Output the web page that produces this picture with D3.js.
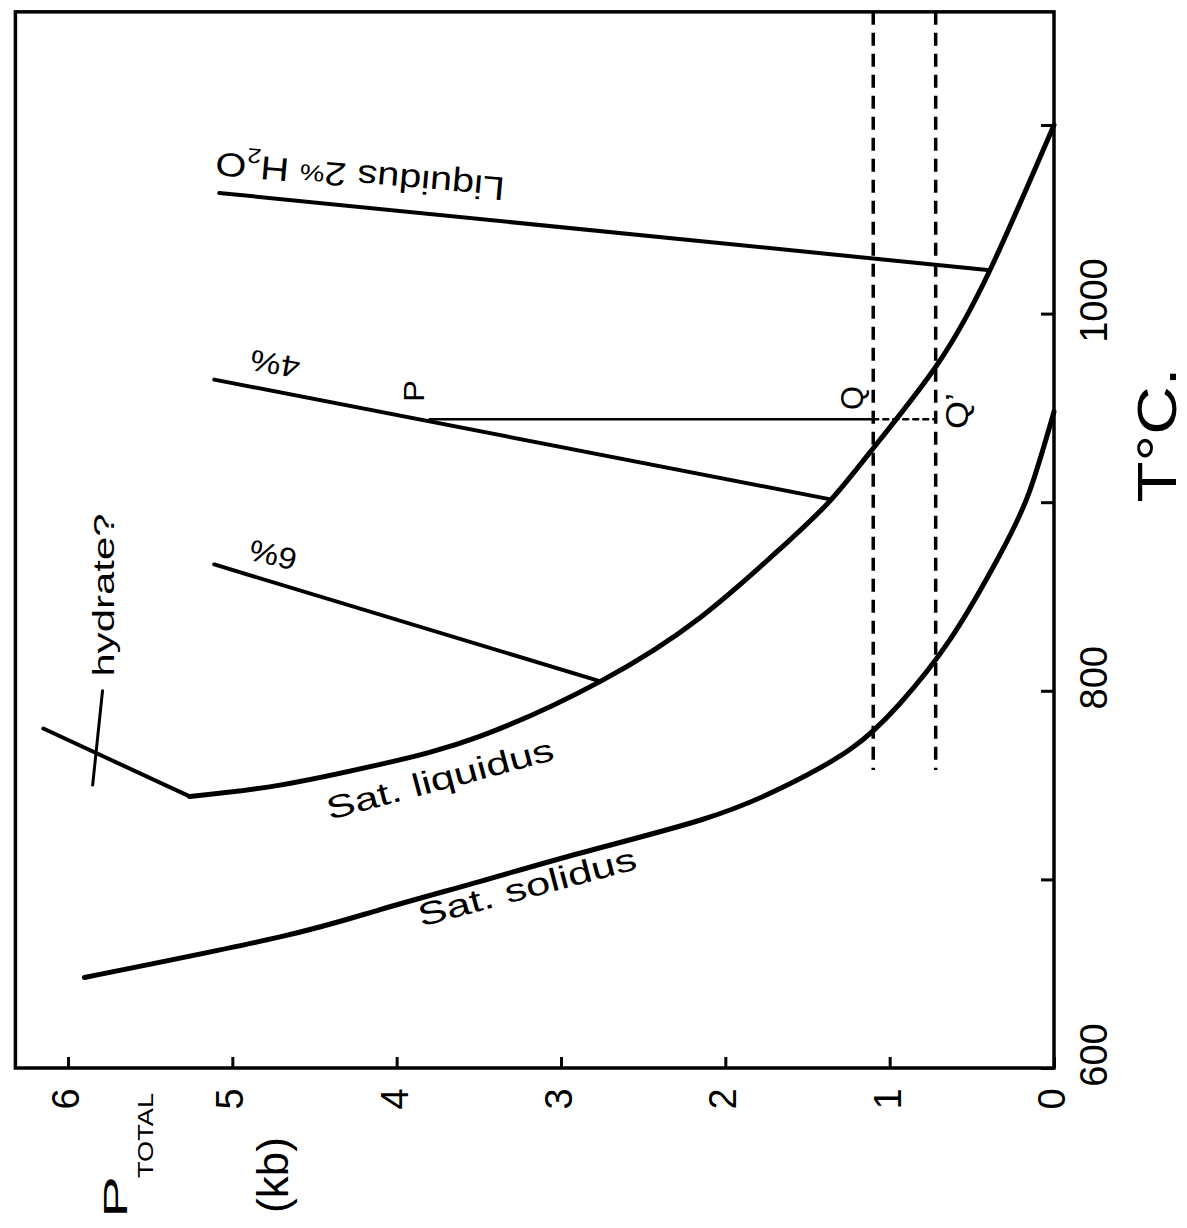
<!DOCTYPE html>
<html lang="en">
<head>
    <meta charset="UTF-8">
    <title>Saturated liquidus and solidus, P total vs T</title>
    <script src="https://cdn.jsdelivr.net/npm/d3@7"></script>
    <style>
        body { margin: 0; background: #fff; }
        svg { display: block; font-family: "Liberation Sans", Arial, sans-serif; }
        .curve { fill: none; stroke: #000; stroke-linecap: round; stroke-linejoin: round; }
    </style>
</head>
<body>
    <svg id="chart" width="1187" height="1228"></svg>

    <script>
        // ticks (P in kb along the bottom, T in degC up the right side)
        const pTicks = [0, 1, 2, 3, 4, 5, 6];
        const tTicks = [600, 700, 800, 900, 1000, 1100];
        const tLabels = [600, 800, 1000];

        // curves as [P kb, T degC]
        const satLiquidus = [[5.26, 744], [4.71, 750], [4.10, 761], [3.49, 776], [2.76, 805], [2.15, 839],
            [1.67, 875], [1.36, 901], [1.06, 933], [0.71, 973], [0.39, 1023], [0, 1100]];
        const satSolidus = [[5.90, 648], [4.71, 669.5], [4.10, 684], [3.49, 699], [2.88, 714], [2.15, 731.5],
            [1.67, 748], [1.24, 769], [0.94, 793], [0.63, 827.5], [0.33, 872], [0.15, 905.5], [0, 948]];
        const liquidus2 = [[5.08, 1064], [0.39, 1023]];
        const liquidus4 = [[5.11, 965], [1.36, 901.5]];
        const liquidus6 = [[5.11, 867], [2.76, 805]];
        const hydrate = [[6.15, 780], [5.26, 744]];
        const hydrateLeader = [[5.79, 800], [5.85, 750]];

        // P -> Q -> Q' construction
        const pointP = [3.80, 944];
        const isobars = [1.10, 0.72];     // dashed lines through Q and Q'
        const isobarBottom = 758;

        const svg = d3.select("#chart");

        // the figure is turned on its side: P runs right-to-left, T runs bottom-to-top
        const x = d3.scaleLinear().domain([0, 6]).range([1054, 68]);
        const y = d3.scaleLinear().domain([600, 1100]).range([1068, 125]);

        const line = d3.line().x(d => x(d[0])).y(d => y(d[1]));
        const smooth = d3.line().x(d => x(d[0])).y(d => y(d[1])).curve(d3.curveNatural);

        // frame
        const pMax = 6.32, tMax = 1160;
        svg.append("rect")
            .attr("x", x(pMax)).attr("y", y(tMax))
            .attr("width", x(0) - x(pMax)).attr("height", y(600) - y(tMax))
            .attr("fill", "none").attr("stroke", "#000").attr("stroke-width", 3.5);

        // P axis (bottom), ticks pointing inward
        const pAxis = svg.append("g").attr("transform", `translate(0,${y(600)})`)
            .call(d3.axisBottom(x).tickValues(pTicks).tickSizeInner(-11).tickSizeOuter(0).tickFormat(""));
        pAxis.select(".domain").remove();
        pAxis.selectAll("line").attr("stroke-width", 3);

        svg.append("g").selectAll("text")
            .data(pTicks)
            .join("text")
            .attr("transform", d => `translate(${x(d) + 11},1099) rotate(-90)`)
            .attr("text-anchor", "middle")
            .attr("font-size", 38)
            .text(d => d);

        // T axis (right), ticks pointing inward
        const tAxis = svg.append("g").attr("transform", `translate(${x(0)},0)`)
            .call(d3.axisRight(y).tickValues(tTicks).tickSizeInner(-13).tickSizeOuter(0).tickFormat(""));
        tAxis.select(".domain").remove();
        tAxis.selectAll("line").attr("stroke-width", 3);

        svg.append("g").selectAll("text")
            .data(tLabels)
            .join("text")
            .attr("transform", d => `translate(1107,${y(d) - 13}) rotate(-90)`)
            .attr("text-anchor", "middle")
            .attr("font-size", 38)
            .text(d => d);

        // axis titles
        const pTitle = svg.append("text")
            .attr("transform", "translate(127,1218) rotate(-90)");
        pTitle.append("tspan").attr("x", 0).attr("y", 0).attr("font-size", 34)
            .attr("textLength", 42).attr("lengthAdjust", "spacingAndGlyphs").text("P");
        // subscript sits lower in the turned frame, i.e. further right on the page
        pTitle.append("tspan").attr("x", 40).attr("y", 26).attr("font-size", 22)
            .attr("textLength", 85).attr("lengthAdjust", "spacingAndGlyphs").text("TOTAL");

        svg.append("text")
            .attr("transform", "translate(288,1175) rotate(-90)")
            .attr("text-anchor", "middle")
            .attr("font-size", 44)
            .text("(kb)");

        svg.append("text")
            .attr("transform", "translate(1176,435) rotate(-90)")
            .attr("text-anchor", "middle")
            .attr("font-size", 56)
            .attr("textLength", 135)
            .attr("lengthAdjust", "spacingAndGlyphs")
            .text("T°C.");

        // dashed isobars
        svg.append("g").selectAll("line")
            .data(isobars)
            .join("line")
            .attr("x1", d => x(d)).attr("x2", d => x(d))
            .attr("y1", y(tMax)).attr("y2", y(isobarBottom))
            .attr("stroke", "#000").attr("stroke-width", 3.5)
            .attr("stroke-dasharray", "13,8");

        // curves
        svg.append("path").datum(satSolidus).attr("class", "curve").attr("stroke-width", 5).attr("d", smooth);
        svg.append("path").datum(satLiquidus).attr("class", "curve").attr("stroke-width", 5).attr("d", smooth);
        [liquidus2, liquidus4, liquidus6, hydrate].forEach(seg => {
            svg.append("path").datum(seg).attr("class", "curve").attr("stroke-width", 4).attr("d", line);
        });
        svg.append("path").datum(hydrateLeader).attr("class", "curve").attr("stroke-width", 3).attr("d", line);

        // P -> Q solid, Q -> Q' dotted
        svg.append("path").datum([pointP, [isobars[0], pointP[1]]])
            .attr("class", "curve").attr("stroke-width", 2.5).attr("d", line);
        svg.append("path").datum([[isobars[0], pointP[1]], [isobars[1], pointP[1]]])
            .attr("class", "curve").attr("stroke-width", 2.5).attr("stroke-dasharray", "5,5")
            .attr("stroke-linecap", "butt").attr("d", line);

        // labels on the curves
        const labels = [
            { text: "Sat. liquidus", cx: 440, cy: 779, angle: -15, size: 32, len: 234 },
            { text: "Sat. solidus", cx: 527, cy: 887, angle: -15, size: 32, len: 225 },
            { text: "4%", cx: 275, cy: 364, angle: 190, size: 30, len: 50 },
            { text: "6%", cx: 273, cy: 555, angle: 193, size: 30, len: 48 },
            { text: "hydrate?", cx: 103, cy: 595, angle: -90, size: 30, len: 163 },
            { text: "P", cx: 413, cy: 391, angle: -90, size: 30, len: 22 },
            { text: "Q", cx: 852, cy: 398, angle: -90, size: 32, len: 24 },
            { text: "Q’", cx: 957, cy: 411, angle: -90, size: 32, len: 36 }
        ];
        svg.append("g").selectAll("text")
            .data(labels)
            .join("text")
            .attr("transform", d => `translate(${d.cx},${d.cy}) rotate(${d.angle})`)
            .attr("text-anchor", "middle")
            .attr("dominant-baseline", "central")
            .attr("font-size", d => d.size)
            .attr("textLength", d => d.len)
            .attr("lengthAdjust", "spacingAndGlyphs")
            .text(d => d.text);

        // upside-down label of the 2% liquidus, with subscript
        const l2 = svg.append("text")
            .attr("transform", "translate(360,177) rotate(185)")
            .attr("text-anchor", "middle")
            .attr("dominant-baseline", "central")
            .attr("font-size", 33)
            .attr("textLength", 290)
            .attr("lengthAdjust", "spacingAndGlyphs");
        l2.append("tspan").text("Liquidus 2");
        l2.append("tspan").attr("font-size", 23).text("%");
        l2.append("tspan").text(" H");
        l2.append("tspan").attr("font-size", 21).attr("baseline-shift", "sub").text("2");
        l2.append("tspan").text("O");
    </script>
</body>
</html>
